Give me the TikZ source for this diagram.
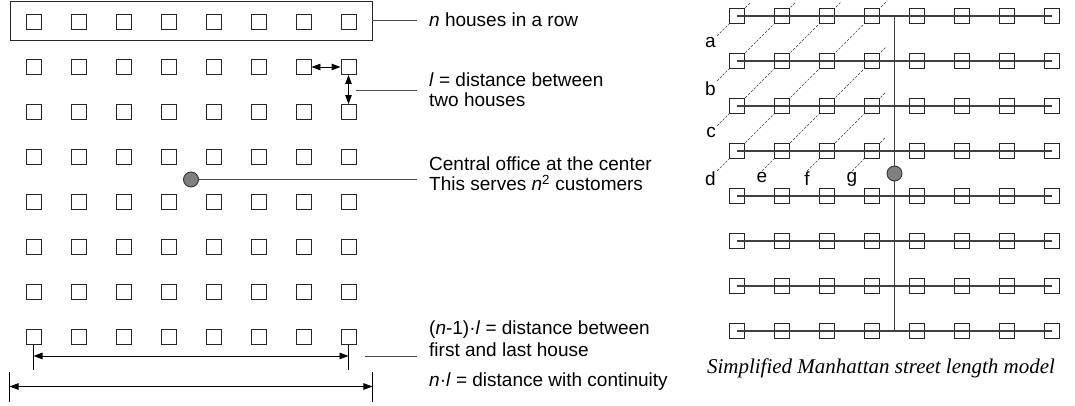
\documentclass[tikz,border=0pt]{standalone}
\usepackage{fontspec}
\setmainfont{Liberation Sans}
\newfontfamily\capfont{Liberation Serif}
\usetikzlibrary{arrows.meta,calc,backgrounds}

\begin{document}
\begin{tikzpicture}[x=1pt, y=-1pt,
  house/.style={draw=black!85, line width=0.9pt, minimum size=15pt, inner sep=0pt},
  office/.style={circle, draw=black!80, fill=black!50, line width=0.9pt, minimum size=15pt, inner sep=0pt},
  street/.style={draw=black!75, line width=1.2pt},
  lead/.style={draw=black!70, line width=0.9pt},
  tick/.style={draw=black, line width=0.9pt},
  dim/.style={<->, >={Triangle[length=9pt,width=6.5pt]}, line width=0.9pt},
  diag/.style={draw=black!75, line width=0.6pt, dash pattern=on 2.5pt off 1.5pt},
  lbl/.style={anchor=west, align=left, inner xsep=12pt, inner ysep=0pt},
  font=\fontsize{19}{20}\selectfont]
\useasboundingbox (0,0) rectangle (1075,405);

% left: n x n houses
\foreach \r in {1,...,8}
  \foreach \c in {1,...,8}
    \node[house] (h\r-\c) at ({33.5+45*(\c-1)}, {22+45*(\r-1)}) {};
\node[draw=black!85, line width=0.9pt, minimum width=362pt, minimum height=39pt, inner sep=0pt] (row) at (191,20.5) {};
\node[office] (co) at ($(h4-4)!0.5!(h5-5)$) {};

\node[lbl] (nrow) at (417,20) {\textit{n} houses in a row};
\draw[lead] (row.east) -- (row.east -| nrow.west);

\draw[dim] (h2-7) -- (h2-8);
\draw[dim] (h2-8) -- (h3-8);
\node[lbl] (ltext) at (417,90) {\textit{l} = distance between\\two houses};
\draw[lead] (ltext.west -| h2-8.east) -- (ltext.west);

\node[lbl, font=\fontsize{19}{20}\selectfont] (cotext) at (417,174) {Central office at the center\\This serves \textit{n}\textsuperscript{2} customers};
\draw[lead] (co) -- (co -| cotext.west);

% dimension lines
\coordinate (fa) at ($(h8-1.south)+(0,11)$);
\coordinate (fb) at ($(h8-8.south)+(0,11)$);
\draw[tick] (h8-1.south) -- ($(h8-1.south)+(0,25)$);
\draw[tick] (h8-8.south) -- ($(h8-8.south)+(0,25)$);
\draw[dim] (fa) -- (fb);
\coordinate (ga) at (row.west |- 0,386.5);
\coordinate (gb) at (row.east |- 0,386.5);
\draw[tick] ($(ga)+(0,-15)$) -- ($(ga)+(0,15)$);
\draw[tick] ($(gb)+(0,-15)$) -- ($(gb)+(0,15)$);
\draw[dim] (ga) -- (gb);

\node[lbl, font=\fontsize{19}{22}\selectfont] (fltext) at (417,339) {(\textit{n}-1)·\textit{l} = distance between\\first and last house};
\coordinate (fl) at ($(fb)+(16,0)$);
\draw[lead] (fl) -- (fl -| fltext.west);
\node[lbl] (nltext) at (417,382) {\textit{n}·\textit{l} = distance with continuity};

% right: street model
\foreach \r in {1,...,8}
  \foreach \c in {1,...,8}
    \node[house, fill=white] (m\r-\c) at ({737+45*(\c-1)}, {16+45*(\r-1)}) {};
\foreach \r in {1,...,8}
  \draw[street] (m\r-1.center) -- (m\r-8.center);
\draw[street] ($(m1-4.center)!0.5!(m1-5.center)$) -- ($(m8-4.center)!0.5!(m8-5.center)$);
\node[office] (mco) at ($(m4-4.center)!0.5!(m5-5.center)$) {};

\begin{scope}[on background layer]
\foreach \k/\lab/\pos in {1/a/north east, 2/b/north east, 3/c/north east, 4/d/north east, 5/e/north, 6/f/north, 7/g/north} {
  \pgfmathtruncatemacro{\rlo}{min(4,\k)}
  \pgfmathtruncatemacro{\clo}{\k+1-\rlo}
  \pgfmathtruncatemacro{\rtop}{max(1,\k-3)}
  \pgfmathtruncatemacro{\ctop}{\k+1-\rtop}
  \coordinate (s\lab) at ($(m\rlo-\clo.center)+(-20,20)$);
  \coordinate (t\lab) at ($(m\rtop-\ctop.center)+(14,-14)$);
  \draw[diag] (s\lab) -- (t\lab);
  \node[anchor=\pos, inner sep=1pt] (l\lab) at (s\lab) {\lab};
}
\end{scope}

\node[font=\capfont\itshape\fontsize{21}{24}\selectfont] (cap) at (881,368) {Simplified Manhattan street length model};
\end{tikzpicture}
\end{document}
